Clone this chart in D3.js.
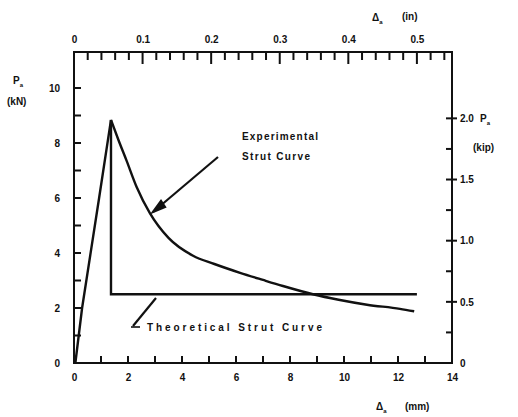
<!DOCTYPE html>
<html><head><meta charset="utf-8">
<script src="https://cdn.jsdelivr.net/npm/d3@7"></script>
<style>
body{margin:0;background:#fff;}
text{font-family:"Liberation Sans",Arial,sans-serif;font-weight:bold;fill:#111;}
</style></head>
<body><svg id="c" width="518" height="417"></svg>
<script>
// ---- data ----
const loadDisp = [0.05, 0.3, 0.93, 1.37];            // mm
const loadForce = [0.0, 2.0, 6.0, 8.84];             // kN
const expDisp = [1.37, 1.65, 1.95, 2.32, 2.81, 3.5, 4.41, 5.2, 6.15, 7.0, 7.74, 8.85, 9.8, 10.85, 12.07, 12.6];
const expForce = [8.84, 8.1, 7.35, 6.4, 5.45, 4.55, 3.9, 3.6, 3.28, 3.02, 2.8, 2.5, 2.3, 2.12, 1.97, 1.88];
const theoDisp = [1.37, 1.37, 12.7];
const theoForce = [8.84, 2.5, 2.5];
const mmTicks = [0, 2, 4, 6, 8, 10, 12, 14];
const kNTicks = [0, 2, 4, 6, 8, 10];
const inTicks = [0, 0.1, 0.2, 0.3, 0.4, 0.5];
const inLabels = ["0", "0.1", "0.2", "0.3", "0.4", "0.5"];
const kipTicks = [0, 0.5, 1.0, 1.5, 2.0];
const kipLabels = ["0", "0.5", "1.0", "1.5", "2.0"];

const svg = d3.select("#c");
const L = 74, R = 452, T = 52, B = 363;
const x = d3.scaleLinear().domain([0, 14]).range([L, R]);
const y = d3.scaleLinear().domain([0, 10]).range([B, 88]);
const KN_PER_KIP = 4.448, MM_PER_IN = 25.4;
const xIn = d3.scaleLinear().domain([0, 14 / MM_PER_IN]).range([L, R]);
const yKip = d3.scaleLinear().domain([0, 10 / KN_PER_KIP]).range([B, 88]);

const INK = "#111";

// frame
svg.append("path")
  .attr("d", `M${L},${T}H${R}V${B}H${L}Z`)
  .attr("fill", "none").attr("stroke", INK).attr("stroke-width", 2);

function styleAxis(g) {
  g.select(".domain").remove();
  g.selectAll("text").style("font-size", "10px").style("font-weight", "bold").attr("fill", INK);
}

// tick marks as small filled rects, positioned by the scales
const tk = svg.append("g").attr("fill", INK);
tk.selectAll("rect.bx").data(d3.range(1, 14, 1)).join("rect").attr("class", "bx")
  .attr("x", d => x(d) - 1).attr("y", B - 7).attr("width", 2).attr("height", 7);
tk.selectAll("rect.ly").data(d3.range(1, 11, 1)).join("rect").attr("class", "ly")
  .attr("x", L).attr("y", d => y(d) - 1).attr("width", 7).attr("height", 2);
tk.selectAll("rect.tx").data(d3.range(1, 28, 1)).join("rect").attr("class", "tx")
  .attr("x", i => xIn(i * 0.02) - 1).attr("y", T).attr("width", 2).attr("height", i => (i % 5 === 0 ? 12 : 8));
tk.selectAll("rect.ry").data(d3.range(1, 9, 1)).join("rect").attr("class", "ry")
  .attr("x", R - 6).attr("y", i => yKip(i * 0.25) - 1).attr("width", i => (i % 2 === 0 ? 11 : 6)).attr("height", 2);

// tick labels via axes
svg.append("g").attr("transform", `translate(0,${B})`)
  .call(d3.axisBottom(x).tickValues(mmTicks).tickSize(0).tickPadding(11).tickFormat(d3.format("d")))
  .call(styleAxis);
svg.append("g").attr("transform", `translate(${L},0)`)
  .call(d3.axisLeft(y).tickValues(kNTicks).tickSize(0).tickPadding(14).tickFormat(d3.format("d")))
  .call(styleAxis);
svg.append("g").attr("transform", `translate(0,${T})`)
  .call(d3.axisTop(xIn).tickValues(inTicks).tickSize(0).tickPadding(9).tickFormat((d, i) => inLabels[i]))
  .call(styleAxis);
svg.append("g").attr("transform", `translate(${R},0)`)
  .call(d3.axisRight(yKip).tickValues(kipTicks).tickSize(0).tickPadding(8).tickFormat((d, i) => kipLabels[i]))
  .call(styleAxis);

// curves
const lineLin = d3.line().x(d => x(d[0])).y(d => y(d[1]));
const lineMono = d3.line().x(d => x(d[0])).y(d => y(d[1])).curve(d3.curveMonotoneX);
const strokeW = 2.4;
svg.append("path").datum(d3.zip(loadDisp, loadForce)).attr("d", lineLin)
  .attr("fill", "none").attr("stroke", INK).attr("stroke-width", strokeW).attr("stroke-linejoin", "round");
svg.append("path").datum(d3.zip(expDisp, expForce)).attr("d", lineMono)
  .attr("fill", "none").attr("stroke", INK).attr("stroke-width", strokeW);
svg.append("path").datum(d3.zip(theoDisp, theoForce)).attr("d", lineLin)
  .attr("fill", "none").attr("stroke", INK).attr("stroke-width", strokeW);

// annotations
function txt(s, px, py, anchor, size) {
  return svg.append("text").attr("x", px).attr("y", py).attr("text-anchor", anchor || "start")
    .style("font-size", (size || 10) + "px").text(s);
}
const ann = svg.append("g").attr("stroke", INK).attr("fill", "none").attr("stroke-width", 2.2);
// experimental leader
ann.append("line").attr("x1", 218).attr("y1", 157).attr("x2", 153).attr("y2", 212);
ann.append("path").attr("d", "M153,212 L161,201 L165,207 Z").attr("fill", INK);
txt("Experimental", 242, 140).attr("textLength", 76).attr("lengthAdjust", "spacing");
txt("Strut Curve", 242, 160).attr("textLength", 68).attr("lengthAdjust", "spacing");
// theoretical leader
ann.append("line").attr("x1", 156).attr("y1", 298).attr("x2", 133).attr("y2", 326);
ann.append("line").attr("x1", 131).attr("y1", 327).attr("x2", 140).attr("y2", 327).attr("stroke-width", 1.6);
txt("Theoretical Strut Curve", 147, 331).attr("textLength", 175).attr("lengthAdjust", "spacing");

// axis titles
const pL = txt("P", 13, 84); pL.append("tspan").attr("dy", 3).style("font-size", "6px").text("a");
txt("(kN)", 7, 105);
const pR = txt("P", 480, 122); pR.append("tspan").attr("dy", 3).style("font-size", "6px").text("a");
txt("(kip)", 473, 151);
const dB = txt("\u0394", 376, 410); dB.append("tspan").attr("dy", 3).style("font-size", "6px").text("a");
txt("(mm)", 405, 410);
const dT = txt("\u0394", 372, 21); dT.append("tspan").attr("dy", 3).style("font-size", "6px").text("a");
txt("(in)", 402, 20);
</script></body></html>
